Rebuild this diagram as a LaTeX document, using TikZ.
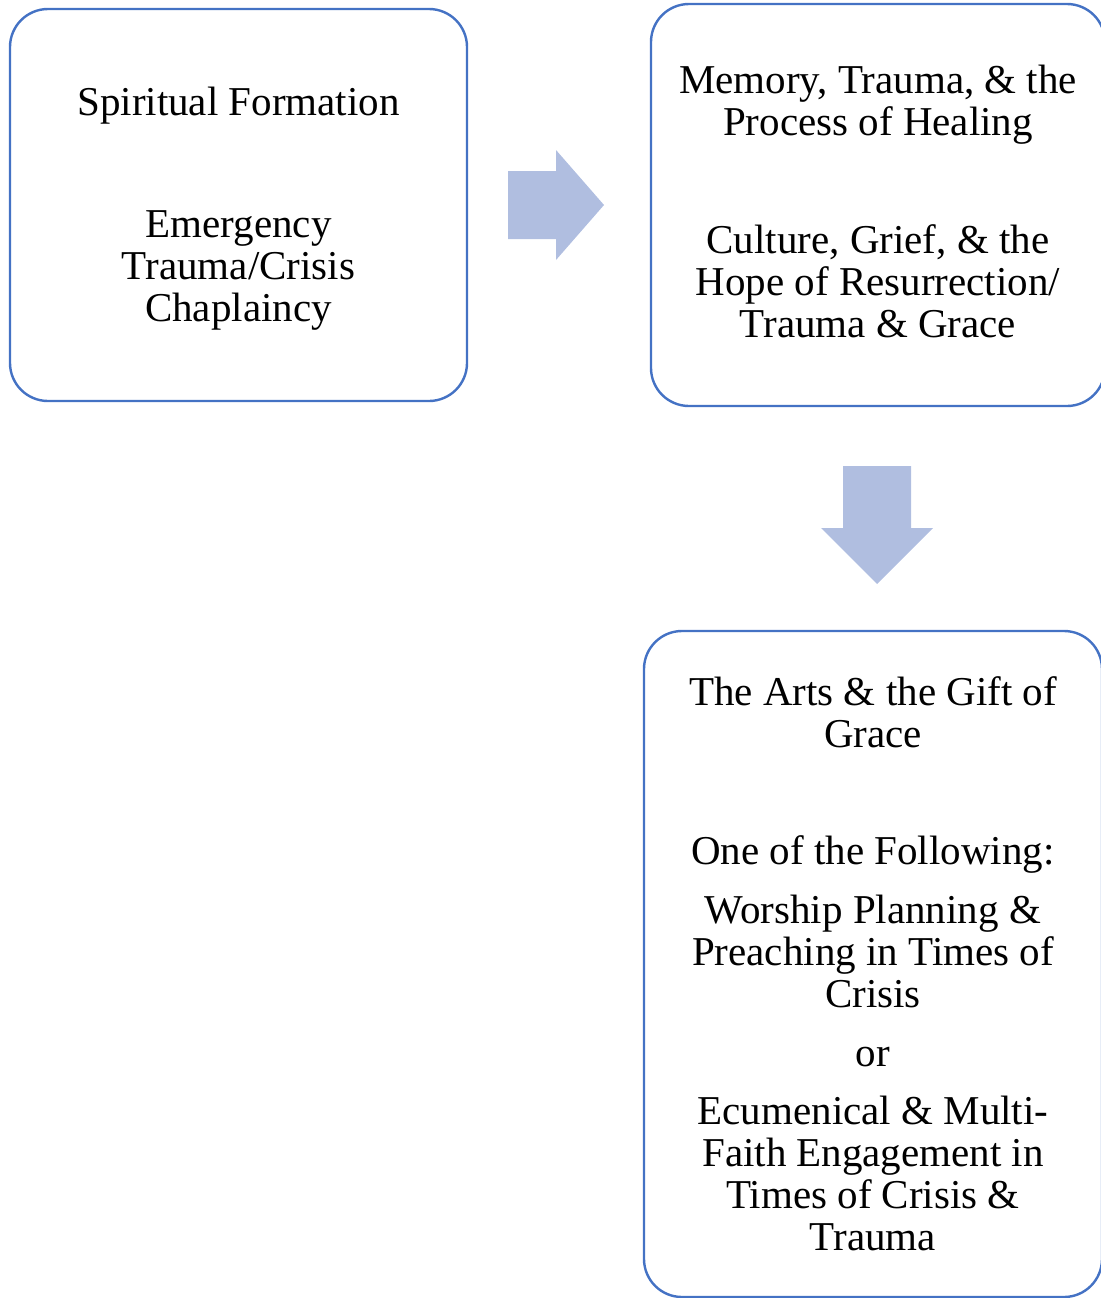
\documentclass[tikz,border=0pt]{standalone}
\usepackage{fontspec}
\setmainfont{Liberation Serif}
\usepackage{tikz}
\usetikzlibrary{positioning}
\definecolor{boxblue}{HTML}{4472C4}
\definecolor{arrowfill}{HTML}{B0BEE0}

\tikzset{
    course/.style={draw=boxblue, line width=2.4pt, rounded corners=38pt, fill=white,
        align=center, text=black, inner sep=0pt,
        font=\fontsize{41}{42}\selectfont},
    blockarrow/.style={fill=arrowfill, draw=none}
}

\begin{document}
\begin{tikzpicture}[x=1pt, y=1pt]
    \useasboundingbox (0,0) rectangle (1100,-1298);

    % First term
    \node[course, minimum width=457pt, minimum height=392pt] (first) at (238.5,-205)
        {\raisebox{-5pt}[\height][\depth]{\begin{tabular}{@{}c@{}}Spiritual Formation\\[80pt]Emergency\\Trauma/Crisis\\Chaplaincy\end{tabular}}};

    % Second term
    \node[course, minimum width=454pt, minimum height=402pt] (second) at (878,-205)
        {\raisebox{-2pt}[\height][\depth]{\begin{tabular}{@{}c@{}}Memory, Trauma, \& the\\Process of Healing\\[76pt]Culture, Grief, \& the\\Hope of Resurrection/\\Trauma \& Grace\end{tabular}}};

    % Third term
    \node[course, minimum width=458pt, minimum height=666pt] (third) at (873,-964)
        {The Arts \& the Gift of\\Grace\\[75pt]One of the Following:\\[17pt]Worship Planning \&\\Preaching in Times of\\Crisis\\[17pt]or\\[16pt]Ecumenical \& Multi-\\Faith Engagement in\\Times of Crisis \&\\Trauma};

    % Arrow first -> second
    \fill[blockarrow] (508,-171) -- (556,-171) -- (556,-150) -- (604,-205)
        -- (556,-260) -- (556,-239) -- (508,-239) -- cycle;

    % Arrow second -> third
    \fill[blockarrow] (843,-466) -- (911,-466) -- (911,-528) -- (933,-528)
        -- (877,-584) -- (821,-528) -- (843,-528) -- cycle;
\end{tikzpicture}
\end{document}
